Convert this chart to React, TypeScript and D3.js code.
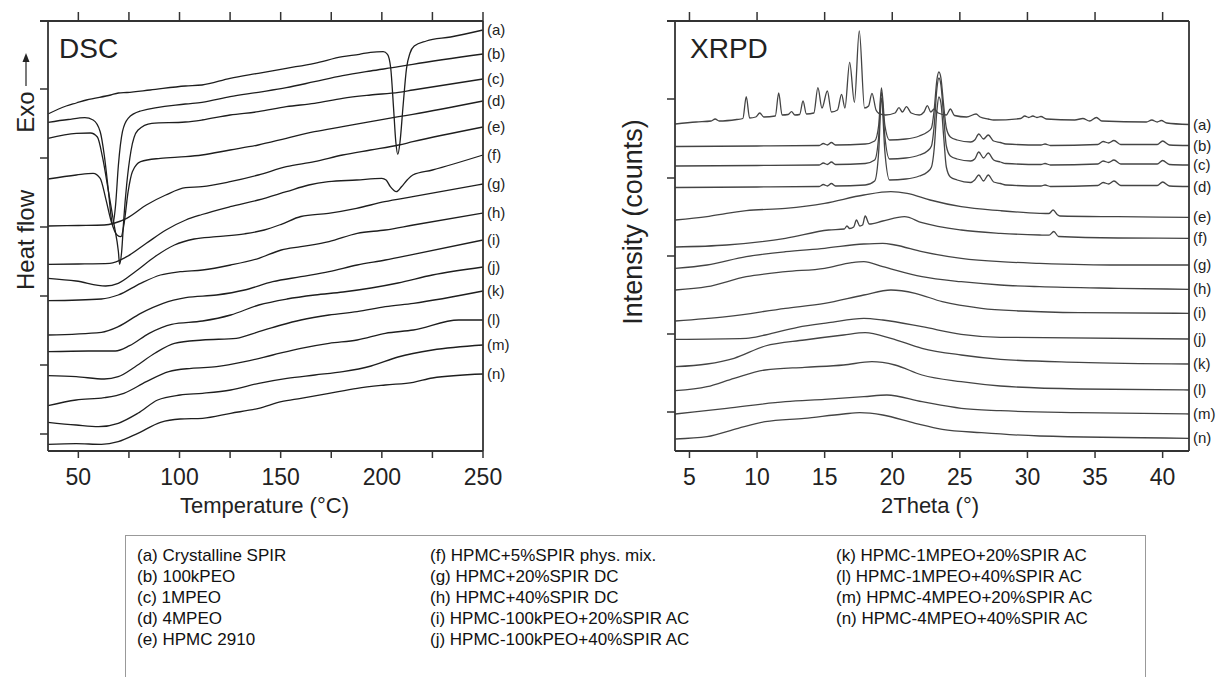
import React from "react";
import * as d3 from "d3";

type P = [number, number];

// ---------- DSC data (temperature °C, heat flow a.u., curves offset) ----------
const dscA: P[] = [[35,337],[44,345],[49,348],[54,351],[66,356],[69.8,358],[74,358.5],[85.5,361],[102.9,365],[111.1,366],[125,372.7],[138.9,377.7],[152.8,382.7],[166.7,387.7],[180.6,394.3],[188.9,396.7],[194.4,398.7],[200.7,399.3],[202.8,396.7],[204.4,382.7],[205.8,342.7],[206.9,309.3],[207.9,296.7],[209,309.3],[210.4,342.7],[212.2,382.7],[213.9,397.7],[216,405],[222,410],[234,414],[250,421]];
const dscB: P[] = [[35,328.7],[45,331.5],[53.2,333.3],[57.3,331],[60.8,319.3],[62.8,296],[64.9,259.3],[66.3,232.7],[67,226],[68.4,246],[69.8,286],[71.8,319.3],[74.6,332.7],[80.8,340],[102.9,347],[111.1,348.7],[125,354.3],[138.9,358.7],[152.8,363.3],[166.7,369.3],[180.6,375.3],[194.4,380],[208.3,384.3],[215.3,386.7],[250,397]];
const dscC: P[] = [[35,312.7],[49,317.7],[56,318],[59.4,314],[62,293.3],[64.9,259.3],[67.7,226],[69.8,199.3],[70.4,186.7],[71.4,199.3],[72.5,233.3],[73.9,266.7],[76,300],[79.4,320.7],[86.3,327.7],[102.9,329],[111.1,331],[125,336],[138.9,339.3],[152.8,344.3],[166.7,347.7],[180.6,352.7],[194.4,356],[208.3,358.7],[215.3,361],[250,372]];
const dscD: P[] = [[35,272],[49,276],[57.3,277.7],[60.8,272.7],[63.5,252.7],[66.3,229.3],[69.1,216],[71.1,214.3],[72.5,226],[74.6,259.3],[76.7,279.3],[80.8,289.3],[90.5,292.7],[103,294.3],[111.1,296],[125,301],[138.9,306],[152.8,312.7],[166.7,319.3],[180.6,324.3],[194.4,329.3],[208.3,334.3],[215.3,336.7],[250,350]];
const dscE: P[] = [[35,225],[50,225.5],[62.8,226],[68,228],[73.9,232.7],[83.6,246],[93.2,256],[103,263.3],[111.1,264.3],[125,269.3],[138.9,276],[152.8,284.3],[166.7,289.3],[180.6,296],[194.4,301],[208.3,306],[215.3,309.3],[250,324]];
const dscF: P[] = [[35,186.7],[50,187],[65.6,187.7],[73.9,194.3],[83.6,207.7],[93.3,221],[103.1,231],[111.1,236.5],[125,244.3],[138.9,251],[152.8,259.3],[163.9,266],[173.6,269.3],[187.5,271],[200,272.7],[202.1,271],[204.2,264.3],[207.2,259.3],[209.7,264.3],[212.5,271],[215.3,276],[225,281],[250,296]];
const dscG: P[] = [[35,172.7],[48.9,170],[63.5,165],[69.7,167.7],[78.1,179.3],[87.8,194.3],[97.5,206],[107.2,212],[118.3,214.3],[132.2,217.2],[141.9,221],[150.3,226.7],[160,234.5],[173.6,237.7],[187.5,242.7],[201.4,249.3],[215.3,254.3],[250,267]];
const dscH: P[] = [[35,150.3],[61.4,152],[69.7,156],[80.8,167.7],[90.6,176],[100.3,179.3],[111.4,181],[125.3,186],[139.2,192.7],[150.3,201],[160,204.3],[173.9,209.3],[187.8,217.7],[201.7,221],[215.6,226],[250,238]];
const dscI: P[] = [[35,116],[61.4,118.7],[69.7,124.3],[80.8,137.7],[91.9,147.7],[103.1,153.3],[118.3,156],[132.2,161],[146.1,169.3],[160,174.3],[173.9,179.3],[187.8,186],[201.7,191],[215.6,196.7],[250,211]];
const dscJ: P[] = [[35,99.3],[55,100],[68.3,100],[75.3,105.3],[85,117.7],[96.1,126.7],[111.4,130],[125.3,136],[139.2,146],[153.1,152],[166.9,156],[180.8,159],[194.7,163],[208,168],[225,176],[250,184]];
const dscK: P[] = [[35,75.3],[48.9,74.3],[62.8,72],[69.7,74.3],[78.1,84.3],[87.8,97.7],[97.5,107.7],[111.4,111],[128.1,112.7],[139.2,119.3],[150.3,126],[160,131],[173.9,136],[187.8,139.3],[201.7,144.3],[215.6,147.7],[250,160]];
const dscL: P[] = [[35,45.3],[48.9,51],[62.8,53.3],[72.5,57.7],[83.6,69.3],[94.7,79.3],[105.8,82.7],[118.3,84.3],[132.2,89.3],[146.1,96],[160,102.7],[173.9,107.7],[187.8,111],[201.7,117.7],[215.6,121],[238,131],[250,131]];
const dscM: P[] = [[35,28.7],[48.9,26],[60,24.3],[69.7,27.7],[79.4,37.7],[89.2,51],[100.3,56],[111.4,57.7],[125.3,61],[139.2,67.7],[153.1,72.7],[166.9,76],[180.8,79.3],[194.7,85],[208,94],[225,101],[250,106]];
const dscN: P[] = [[35,6.7],[48.9,7.3],[61.4,6.7],[69.7,9.3],[79.4,17.7],[90.6,28.7],[100.3,32],[111.4,32.7],[125.3,37.7],[139.2,42.7],[150.3,49.3],[160,52.7],[173.9,57.7],[187.8,62.7],[201.7,66],[215.6,68.7],[225,73],[250,77]];
const dscSeries = [dscA, dscB, dscC, dscD, dscE, dscF, dscG, dscH, dscI, dscJ, dscK, dscL, dscM, dscN];

// ---------- XRPD data (2θ °, intensity a.u., curves offset) ----------
const xA: P[] = [[3.95,327],[5.5,329],[6.6,330],[6.9,332],[7.2,330],[8.5,331.5],[8.95,332.5],[9.2,354.3],[9.45,333],[9.9,334],[10.2,338],[10.5,334],[11.35,335],[11.6,358],[11.85,336],[12.3,336.5],[12.55,339.3],[12.8,336],[13.15,336.5],[13.4,350],[13.65,337],[14.2,338],[14.5,363.3],[14.8,343],[15.2,360],[15.5,339],[15.95,341],[16.25,356.7],[16.5,343],[16.85,388.7],[17.2,348.7],[17.56,420],[17.95,343],[18.25,345],[18.5,357.7],[18.8,341],[19.0,337.7],[19.5,336],[20.2,338],[20.5,343.3],[20.75,339],[21.05,344.3],[21.4,338],[22.0,336],[22.35,339],[22.6,345.3],[22.85,339],[23.1,342],[23.4,338],[24.0,336],[24.3,342],[24.6,335.5],[25.5,334],[26.2,337],[26.5,334],[27.1,332],[27.5,331],[29.5,332.5],[29.8,335],[30.1,333.5],[30.4,335],[30.7,333.5],[31.0,334.5],[31.4,332],[33.5,331],[34.1,332.5],[34.6,330],[35.1,333.5],[35.5,330],[38.8,329],[39.2,331],[39.6,329],[39.9,330.5],[40.3,328],[41.95,326.5]];
const xB: P[] = [[3.95,304.5],[10,305],[14.6,305.5],[14.9,307.5],[15.2,306],[15.5,308.5],[15.8,306],[18.0,307],[18.7,310],[19.0,326],[19.2,363],[19.45,326],[19.8,311],[21.0,312],[22.0,315],[22.6,319],[22.9,323],[23.1,341],[23.3,371],[23.45,379],[23.6,373],[23.8,346],[24.0,323],[24.3,314],[24.8,311],[25.8,309],[26.1,311],[26.4,317],[26.75,312],[27.1,316],[27.5,310],[28.0,308.5],[28.4,307],[31.0,306],[31.3,307],[31.7,305.5],[35.2,306.5],[35.6,309.5],[36.0,308],[36.4,310.5],[36.9,306.5],[39.6,306.5],[40.0,310],[40.5,306],[41.95,305.5]];
const xC: P[] = [[3.95,285],[10,285.5],[14.6,286],[14.9,288],[15.2,286.5],[15.5,289],[15.8,286.5],[18.0,287.5],[18.7,291],[19.0,315],[19.2,359],[19.45,315],[19.8,292],[21.0,293],[22.0,296],[22.6,300],[22.9,305],[23.1,325],[23.3,362],[23.45,373],[23.6,366],[23.8,335],[24.0,305],[24.3,295],[24.8,292],[25.8,290],[26.1,292],[26.4,299],[26.75,293],[27.1,298],[27.5,291],[28.0,289],[28.4,287.5],[31.0,286.5],[31.3,287.5],[31.7,286],[35.2,287],[35.6,290],[36.0,288.5],[36.4,291],[36.9,287],[39.6,287],[40.0,290.5],[40.5,286.5],[41.95,286]];
const xD: P[] = [[3.95,263.5],[10,264],[14.6,264.5],[14.9,266.5],[15.2,265],[15.5,267.5],[15.8,265],[18.0,266],[18.7,270],[19.0,300],[19.2,353],[19.45,300],[19.8,271],[21.0,272],[22.0,275],[22.6,279],[22.9,284],[23.1,302],[23.3,340],[23.45,354],[23.6,348],[23.8,315],[24.0,284],[24.3,274],[24.8,271],[25.8,268.5],[26.1,271],[26.4,276],[26.75,270],[27.1,276],[27.5,269],[28.0,267.5],[28.4,266],[31.0,265],[31.3,266],[31.7,264.5],[35.2,265.5],[35.6,268.5],[36.0,267],[36.4,270],[36.9,265.5],[39.6,265.5],[40.0,269],[40.5,265],[41.95,264.5]];
const xE: P[] = [[3.95,231],[6.3,234.3],[7.75,237.7],[9.2,240.3],[12.1,242.7],[15,247.7],[17.9,256],[19.9,259.3],[21.1,257.7],[22.8,251],[25.1,244.3],[28,240.3],[30.9,237.7],[31.6,237.5],[31.9,241],[32.2,236.5],[32.4,235],[36.7,234.3],[41.95,233.7]];
const xF: P[] = [[3.95,204],[7.75,206],[12.1,212.7],[15.3,221],[16.45,222],[16.65,225],[16.85,222.5],[17.15,224],[17.35,231],[17.6,225],[17.8,226],[18.0,235],[18.3,227],[19.3,230],[20.9,234.3],[22.2,228.3],[25.1,221],[28,217.7],[30.9,216],[31.6,215.8],[31.95,219.5],[32.3,214.5],[36.7,213],[41.95,212.7]];
const xG: P[] = [[3.95,182.7],[6.3,186],[9.2,194.3],[12.1,199.3],[15,202.7],[17.9,207],[19.3,207.7],[20.2,206],[22.2,199.3],[25.1,192.7],[28,189.3],[30.9,187.7],[36.7,186],[41.95,186]];
const xH: P[] = [[3.95,161],[6.3,164.3],[9.2,174.3],[12.1,179.3],[15,182.7],[17.0,188.3],[17.9,189.3],[19.3,184.3],[22.2,174.3],[25.1,169.3],[28,166],[30.9,164.3],[36.7,162.7],[41.95,161.7]];
const xI: P[] = [[3.95,130],[7.75,134.3],[12.1,142.7],[15,147.7],[17.9,156],[19.9,161],[21.7,157.7],[23.7,149.3],[26.6,142.7],[29.5,140],[33.8,138.3],[41.95,137.7]];
const xJ: P[] = [[3.95,111.7],[9.2,112.7],[10.6,116],[13,123.7],[15.3,128.3],[17.9,132.7],[19.3,131],[22.2,124.3],[25.1,116.7],[28,113.7],[41.95,112]];
const xK: P[] = [[3.95,84.3],[6.3,87],[8.3,92.7],[10.6,105],[13.5,111],[16.4,116],[18,118.3],[19.9,112.7],[22.2,102.7],[25.1,96],[28,91.7],[33.8,88.7],[41.95,87]];
const xL: P[] = [[3.95,60.3],[6.3,64.3],[8.3,72.7],[10.6,81],[13.5,83.7],[16.4,86],[18.5,89.3],[20.2,86],[22.2,76],[25.1,69.3],[28,65],[33.8,62],[41.95,61]];
const xM: P[] = [[3.95,37],[7.75,42.7],[12.1,49.3],[15,51.7],[17.9,54.3],[19.6,56],[22.2,49.3],[25.1,42.7],[28,40.3],[33.8,38.3],[41.95,37]];
const xN: P[] = [[3.95,12],[6.3,14.3],[8.6,22.7],[10.6,29.3],[13.5,32.7],[16.4,37],[17.6,38.3],[19.3,36],[21.7,27.7],[23.7,21.7],[26.6,18.3],[30.9,15],[41.95,12.7]];
const xrpdSeries = [xA, xB, xC, xD, xE, xF, xG, xH, xI, xJ, xK, xL, xM, xN];

const curveLabels = ["(a)","(b)","(c)","(d)","(e)","(f)","(g)","(h)","(i)","(j)","(k)","(l)","(m)","(n)"];

const dscMajorTicks = [50, 100, 150, 200, 250];
const dscAllTicks = [50, 75, 100, 125, 150, 175, 200, 225, 250];
const dscYTicks = [17, 86, 155, 224, 293, 362];
const xrpdTicks = [5, 10, 15, 20, 25, 30, 35, 40];
const xrpdYTicks = [39, 117, 195, 273, 352];

const legendCol1 = ["(a) Crystalline SPIR", "(b) 100kPEO", "(c) 1MPEO", "(d) 4MPEO", "(e) HPMC 2910"];
const legendCol2 = ["(f) HPMC+5%SPIR phys. mix.", "(g) HPMC+20%SPIR DC", "(h) HPMC+40%SPIR DC", "(i) HPMC-100kPEO+20%SPIR AC", "(j) HPMC-100kPEO+40%SPIR AC"];
const legendCol3 = ["(k) HPMC-1MPEO+20%SPIR AC", "(l) HPMC-1MPEO+40%SPIR AC", "(m) HPMC-4MPEO+20%SPIR AC", "(n) HPMC-4MPEO+40%SPIR AC"];

const FONT = "'Liberation Sans', Arial, Helvetica, sans-serif";
const AX = "#333";

export default function App() {
  const top = 21, bottom = 451;
  // DSC panel
  const dx = d3.scaleLinear().domain([35, 250]).range([48, 483]);
  const dy = d3.scaleLinear().domain([0, 430]).range([bottom, top]);
  // XRPD panel
  const xx = d3.scaleLinear().domain([3.93, 41.95]).range([675, 1189]);
  const xy = d3.scaleLinear().domain([0, 430]).range([bottom, top]);

  const dLine = d3.line<P>().x(d => dx(d[0])).y(d => dy(d[1])).curve(d3.curveMonotoneX);
  const xLine = d3.line<P>().x(d => xx(d[0])).y(d => xy(d[1])).curve(d3.curveMonotoneX);

  const [dL, dR] = dx.range();
  const [xL, xR] = xx.range();

  return (
    <svg width={1227} height={677} viewBox="0 0 1227 677"
      style={{ position: "absolute", left: 0, top: 0, display: "block", background: "#fff" }}
      fontFamily={FONT}>
      <rect x={0} y={0} width={1227} height={677} fill="#fff" />

      {/* ===== DSC ===== */}
      <g>
        {dscSeries.map((s, i) => (
          <path key={i} d={dLine(s) || ""} fill="none" stroke="#1e1e1e" strokeWidth={1.3} />
        ))}
        <line x1={dL - 8} x2={dR} y1={top} y2={top} stroke={AX} strokeWidth={1.8} />
        <line x1={dL} x2={dR} y1={bottom} y2={bottom} stroke={AX} strokeWidth={1.8} />
        <line x1={dL} x2={dL} y1={top} y2={bottom} stroke={AX} strokeWidth={1.8} />
        <line x1={dR} x2={dR} y1={top} y2={bottom} stroke={AX} strokeWidth={1.8} />
        {dscAllTicks.map(t => (
          <g key={t}>
            <line x1={dx(t)} x2={dx(t)} y1={top} y2={top - 9} stroke={AX} strokeWidth={1.5} />
            <line x1={dx(t)} x2={dx(t)} y1={bottom} y2={bottom + 7} stroke={AX} strokeWidth={1.5} />
          </g>
        ))}
        {dscYTicks.map(t => (
          <line key={t} x1={dL - 8} x2={dL} y1={dy(t)} y2={dy(t)} stroke={AX} strokeWidth={1.5} />
        ))}
        {dscMajorTicks.map(t => (
          <text key={t} x={dx(t)} y={485} textAnchor="middle" fontSize={23} fill="#222">{t}</text>
        ))}
        {dscSeries.map((s, i) => (
          <text key={i} x={dR + 4} y={dy(s[s.length - 1][1]) + 5} fontSize={15} fill="#222">{curveLabels[i]}</text>
        ))}
        <text x={59} y={58} fontSize={28} fill="#222">DSC</text>
        <text x={dx(142)} y={513} textAnchor="middle" fontSize={22} fill="#222">Temperature (°C)</text>
        <text transform="translate(34,112) rotate(-90)" textAnchor="middle" fontSize={24} fill="#222">Exo</text>
        <line x1={26} x2={26} y1={86} y2={60} stroke="#222" strokeWidth={1.2} />
        <path d="M26,53 L22.5,62 L29.5,62 Z" fill="#222" />
        <text transform="translate(34,240) rotate(-90)" textAnchor="middle" fontSize={24} fill="#222">Heat flow</text>
      </g>

      {/* ===== XRPD ===== */}
      <g>
        {xrpdSeries.map((s, i) => (
          <path key={i} d={xLine(s) || ""} fill="none" stroke="#444" strokeWidth={1.3} />
        ))}
        <line x1={xL - 8} x2={xR} y1={top} y2={top} stroke={AX} strokeWidth={1.8} />
        <line x1={xL} x2={xR} y1={bottom} y2={bottom} stroke={AX} strokeWidth={1.8} />
        <line x1={xL} x2={xL} y1={top} y2={bottom} stroke={AX} strokeWidth={1.8} />
        <line x1={xR} x2={xR} y1={top} y2={bottom} stroke={AX} strokeWidth={1.8} />
        {xrpdTicks.map(t => (
          <g key={t}>
            <line x1={xx(t)} x2={xx(t)} y1={top} y2={top - 9} stroke={AX} strokeWidth={1.5} />
            <line x1={xx(t)} x2={xx(t)} y1={bottom} y2={bottom + 7} stroke={AX} strokeWidth={1.5} />
            <text x={xx(t)} y={485} textAnchor="middle" fontSize={23} fill="#222">{t}</text>
          </g>
        ))}
        {xrpdYTicks.map(t => (
          <line key={t} x1={xL - 8} x2={xL} y1={xy(t)} y2={xy(t)} stroke={AX} strokeWidth={1.5} />
        ))}
        {xrpdSeries.map((s, i) => (
          <text key={i} x={xR + 4} y={xy(s[s.length - 1][1]) + 5} fontSize={15} fill="#222">{curveLabels[i]}</text>
        ))}
        <text x={690} y={58} fontSize={28} fill="#222">XRPD</text>
        <text x={930} y={513} textAnchor="middle" fontSize={22} fill="#222">2Theta (°)</text>
        <text transform="translate(642,222) rotate(-90)" textAnchor="middle" fontSize={27} fill="#222">Intensity (counts)</text>
      </g>

      {/* ===== Legend ===== */}
      <rect x={125.5} y={535.5} width={1020} height={170} fill="none" stroke="#999" strokeWidth={1} />
      {[legendCol1, legendCol2, legendCol3].map((col, ci) => (
        <g key={ci}>
          {col.map((t, ri) => (
            <text key={ri} x={[137, 430, 836][ci]} y={561 + ri * 21} fontSize={17} fill="#111">{t}</text>
          ))}
        </g>
      ))}
    </svg>
  );
}
